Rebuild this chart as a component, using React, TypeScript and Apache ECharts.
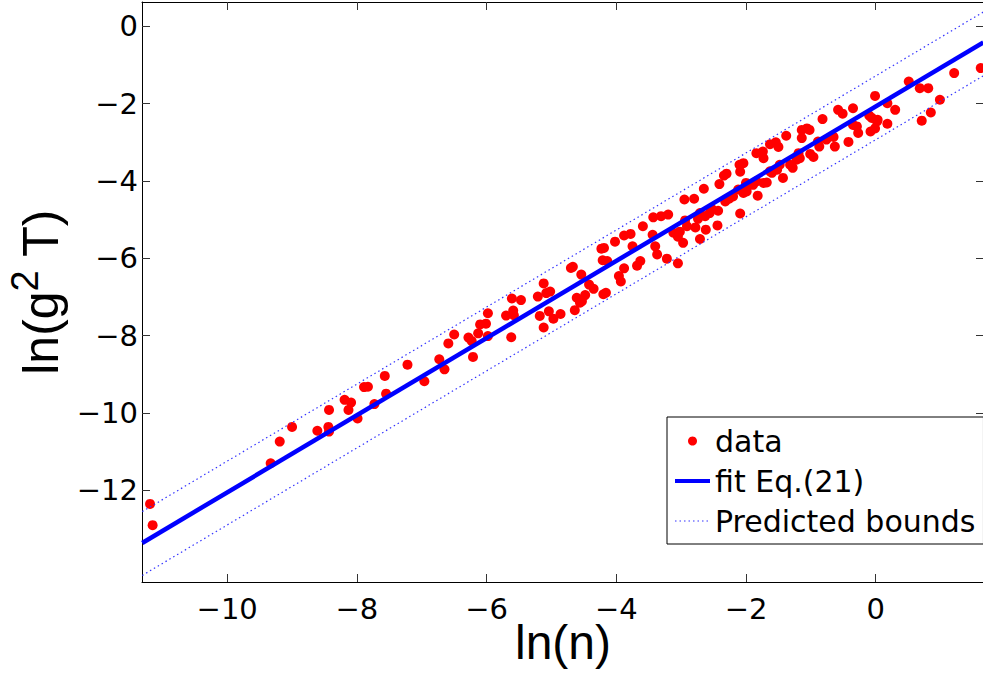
import React, { useEffect, useRef } from "react";
import * as echarts from "echarts";

// ln(n) values of the data points
const lnN = [
  -11.19, -11.15, -9.33, -9.19, -9.0, -8.61, -8.44, -8.43, -8.43, -8.19,
  -8.09, -8.13, -7.99, -7.89, -7.83, -7.73, -7.55, -7.57, -7.22, -6.96,
  -6.73, -6.65, -6.59, -6.5, -6.28, -6.23, -6.21, -6.1, -6.01, -6.13,
  -5.98, -5.98, -5.62, -5.7, -5.59, -5.58, -5.61, -5.47, -5.21, -5.12,
  -5.08, -5.02, -5.18, -5.04, -4.97, -4.86, -5.12, -4.64, -4.7, -4.67,
  -4.54, -4.42, -4.35, -4.61, -4.53, -4.48, -4.56, -4.2, -4.16, -4.23,
  -4.19, -4.21, -4.14, -4.02, -3.96, -3.93, -3.88, -3.88, -3.78, -3.75,
  -3.68, -3.63, -3.59, -3.44, -3.43, -3.31, -3.2, -3.4, -3.37, -3.22,
  -3.12, -3.05, -3.05, -3.02, -2.97, -2.95, -2.8, -2.94, -2.91, -2.78,
  -2.74, -2.71, -2.71, -2.65, -2.62, -2.56, -2.53, -2.43, -2.44, -2.41,
  -2.34, -2.3, -2.32, -2.26, -2.2, -2.09, -2.1, -2.04, -2.09, -2.12,
  -2.04, -1.99, -2.0, -1.89, -1.84, -1.73, -1.68, -1.82, -1.84, -1.74,
  -1.73, -1.63, -1.54, -1.5, -1.6, -1.52, -1.48, -1.43, -1.38, -1.32,
  -1.28, -1.19, -1.17, -1.22, -1.14, -1.06, -1.02, -1.14, -1.01, -0.96,
  -0.89, -0.87, -0.82, -0.76, -0.65, -0.63, -0.58, -0.51, -0.42, -0.35,
  -0.35, -0.29, -0.27, -0.1, -0.06, -0.08, -0.01, 0.02, 0.03, -0.01,
  0.18, 0.18, 0.3, 0.51, 0.68, 0.81, 0.71, 0.85, 0.99, 1.21,
  1.62, -1.63, -2.63, -1.99,
];

// ln(g^2 T) values of the data points
const lnG2T = [
  -12.35, -12.9, -11.3, -10.74, -10.36, -10.46, -10.36, -10.48, -9.92, -9.66,
  -9.73, -9.92, -10.14, -9.33, -9.32, -9.77, -9.5, -9.04, -8.75, -9.18,
  -8.61, -8.87, -8.2, -7.97, -8.05, -8.14, -8.55, -7.71, -7.69, -7.94,
  -8.01, -7.42, -8.04, -7.48, -7.35, -7.47, -7.04, -7.08, -6.99, -6.65,
  -6.9, -6.86, -7.49, -7.37, -7.56, -7.44, -7.79, -7.34, -6.25, -6.22,
  -6.42, -6.68, -6.79, -7.02, -7.11, -6.95, -7.15, -6.93, -6.89, -5.75,
  -5.73, -6.05, -6.07, -5.57, -6.46, -6.6, -6.26, -5.41, -5.37, -5.69,
  -6.19, -6.07, -5.17, -5.39, -4.94, -4.91, -4.87, -5.69, -5.9, -6.01,
  -5.34, -5.44, -6.13, -5.31, -5.6, -4.48, -4.46, -5.02, -5.17, -5.2,
  -4.98, -4.83, -5.5, -4.2, -5.26, -4.83, -4.72, -4.77, -5.15, -4.08,
  -3.86, -3.81, -4.53, -4.46, -4.4, -4.84, -3.58, -3.54, -3.76, -4.22,
  -4.31, -4.27, -4.05, -4.1, -4.01, -4.05, -4.04, -4.38, -3.28, -3.24,
  -3.41, -3.05, -3.0, -3.12, -3.79, -3.71, -3.58, -3.92, -2.83, -3.58,
  -3.66, -3.28, -3.41, -3.45, -2.68, -2.64, -2.68, -2.89, -3.3, -3.38,
  -2.98, -3.11, -2.4, -2.93, -2.86, -3.11, -2.16, -2.26, -2.99, -2.12,
  -2.55, -2.59, -2.76, -2.31, -2.37, -2.72, -2.64, -2.46, -2.42, -1.8,
  -1.99, -2.52, -2.16, -1.43, -1.6, -1.6, -2.44, -2.23, -1.9, -1.21,
  -1.08, -3.75, -4.91, -4.18,
];

// fit line and prediction bounds, read at the two ends of the x range
const fitX = [-11.31, 1.66];
const fitY = [-13.36, -0.42];
const upperBoundY = [-12.55, 0.37];
const lowerBoundY = [-14.2, -1.28];

// axis ranges and tick labels
const X_RANGE = [-11.314, 1.67];
const Y_RANGE = [-14.37, 0.628];
const X_TICKS = [-10, -8, -6, -4, -2, 0];
const Y_TICKS = [-12, -10, -8, -6, -4, -2, 0];

const fmt = (v: number) => (v < 0 ? "\u2212" + Math.abs(v) : String(v));

export default function App() {
  const ref = useRef<HTMLDivElement>(null);
  useEffect(() => {
    if (!ref.current) return;
    const chart = echarts.init(ref.current, undefined, { renderer: "svg" });
    const tickFont = { fontFamily: "DejaVu Sans", fontSize: 29, color: "#000" };
    const axisLine = { show: true, onZero: false, lineStyle: { color: "#000", width: 1 } };
    const tickStyle = { color: "#333", width: 1 };
    const scatterData = lnN.map((x, i) => [x, lnG2T[i]]);
    const pair = (ys: number[]) => fitX.map((x, i) => [x, ys[i]]);
    const hiddenSymbol = { opacity: 0 };
    chart.setOption({
      animation: false,
      backgroundColor: "#fff",
      grid: {
        left: 142,
        top: 2,
        right: -1,
        bottom: 92,
        containLabel: false,
        outerBoundsMode: "none",
      },
      legend: {
        left: 667,
        top: 417,
        orient: "vertical",
        itemGap: 0,
        itemWidth: 35,
        itemHeight: 9,
        padding: [4, 8, 3, 6],
        borderColor: "#000",
        borderWidth: 1,
        backgroundColor: "#fff",
        symbolKeepAspect: true,
        textStyle: {
          fontFamily: "DejaVu Sans",
          fontSize: 30,
          lineHeight: 40,
          color: "#000",
        },
        data: [
          { name: "data", icon: "circle", itemStyle: { color: "#ff0000", opacity: 1 } },
          {
            name: "fit Eq.(21)",
            itemStyle: hiddenSymbol,
            lineStyle: { width: 4, color: "#0000ff" },
          },
          {
            name: "Predicted bounds",
            itemStyle: hiddenSymbol,
            lineStyle: { width: 1.2, color: "#3333ff", type: [1.5, 3] },
          },
        ],
      },
      xAxis: [
        {
          type: "value",
          position: "bottom",
          min: X_RANGE[0],
          max: X_RANGE[1],
          axisLine,
          splitLine: { show: false },
          axisTick: { inside: true, length: 8, customValues: X_TICKS, lineStyle: tickStyle },
          axisLabel: { customValues: X_TICKS, formatter: fmt, margin: 12, lineHeight: 30, ...tickFont },
          name: "ln(n)",
          nameLocation: "middle",
          nameGap: 36,
          nameMoveOverlap: false,
          nameTextStyle: { fontFamily: "Liberation Sans", fontSize: 48, lineHeight: 48, color: "#000" },
        },
        {
          type: "value",
          position: "top",
          min: X_RANGE[0],
          max: X_RANGE[1],
          axisLine,
          splitLine: { show: false },
          axisTick: { inside: true, length: 8, customValues: X_TICKS, lineStyle: tickStyle },
          axisLabel: { show: false },
        },
      ],
      yAxis: [
        {
          type: "value",
          position: "left",
          min: Y_RANGE[0],
          max: Y_RANGE[1],
          axisLine,
          splitLine: { show: false },
          axisTick: { inside: true, length: 8, customValues: Y_TICKS, lineStyle: tickStyle },
          axisLabel: { customValues: Y_TICKS, formatter: fmt, margin: 4, ...tickFont },
          name: "{m|ln(g}{sup|2}{m| T)}",
          nameLocation: "middle",
          nameGap: 70,
          nameTextStyle: {
            color: "#000",
            rich: {
              m: { fontFamily: "Liberation Sans", fontSize: 50, lineHeight: 50, padding: [20, 0, 0, 0], color: "#000" },
              sup: { fontFamily: "Liberation Sans", fontSize: 38, lineHeight: 38, verticalAlign: "top", color: "#000" },
            },
          },
        },
        {
          type: "value",
          position: "right",
          min: Y_RANGE[0],
          max: Y_RANGE[1],
          axisLine,
          splitLine: { show: false },
          axisTick: { inside: true, length: 8, customValues: Y_TICKS, lineStyle: tickStyle },
          axisLabel: { show: false },
        },
      ],
      series: [
        {
          name: "data",
          type: "scatter",
          data: scatterData,
          symbol: "circle",
          symbolSize: 10,
          itemStyle: { color: "#ff0000", opacity: 1 },
        },
        {
          name: "fit Eq.(21)",
          type: "line",
          data: pair(fitY),
          symbol: "none",
          lineStyle: { color: "#0000ff", width: 4.5 },
          itemStyle: { color: "#0000ff" },
        },
        {
          name: "Predicted bounds",
          type: "line",
          data: pair(upperBoundY),
          symbol: "none",
          lineStyle: { color: "#3333ff", width: 1.2, type: [1.5, 3] },
          itemStyle: { color: "#3333ff" },
        },
        {
          name: "Predicted bounds",
          type: "line",
          data: pair(lowerBoundY),
          symbol: "none",
          lineStyle: { color: "#3333ff", width: 1.2, type: [1.5, 3] },
          itemStyle: { color: "#3333ff" },
        },
      ],
    });
    return () => chart.dispose();
  }, []);
  return (
    <div
      ref={ref}
      style={{ position: "fixed", left: 0, top: 0, width: 983, height: 674, background: "#fff" }}
    />
  );
}
